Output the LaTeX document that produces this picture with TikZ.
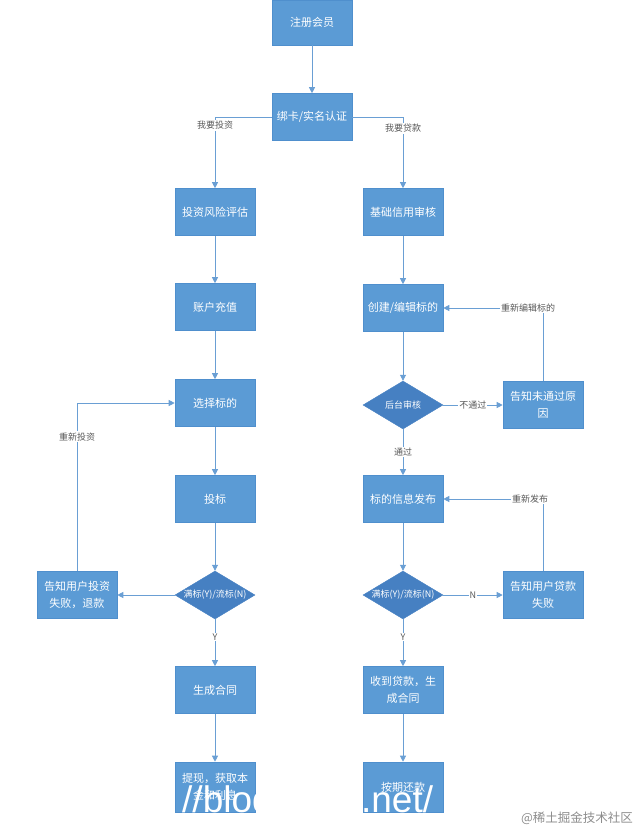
\documentclass[tikz,border=0pt]{standalone}
\usepackage{fontspec}
\setmainfont{Noto Sans CJK SC}
\newfontfamily\urlfont{Liberation Sans}
\usetikzlibrary{arrows.meta,shapes.geometric}
\definecolor{boxblue}{HTML}{5B9BD5}
\definecolor{boxedge}{HTML}{4F8FCD}
\definecolor{diablue}{HTML}{4680C2}
\definecolor{lineblue}{HTML}{6A9FD4}
\definecolor{lblgray}{HTML}{595959}
\definecolor{markgray}{HTML}{8C8C8C}
\tikzset{
  bloco/.style={rectangle, fill=boxblue, draw=boxedge, line width=0.6pt,
    minimum width=80pt, minimum height=47pt, inner sep=2pt, text=white,
    align=center, font=\fontsize{11}{17}\selectfont},
  losango/.style={diamond, fill=diablue, draw=diablue, aspect=1.6,
    minimum width=80pt, minimum height=48pt, inner sep=0pt, text=white,
    font=\fontsize{9}{11}\selectfont},
  rotulo/.style={fill=white, inner sep=1pt, text=lblgray,
    font=\fontsize{9}{11}\selectfont},
  seta/.style={draw=lineblue, line width=0.8pt,
    -{Triangle[length=6pt,width=6pt]}},
}

\begin{document}
\begin{tikzpicture}[x=1pt,y=-1pt]
    \useasboundingbox (0,0) rectangle (643,830);
    \def\xm{312}
    \def\xl{215}
    \def\xr{403}
    \def\xf{77}
    \def\xg{543}

    % Nós

    \node[bloco, minimum height=45pt] (registo) at (\xm,22.5) {注册会员};
    \node[bloco] (cartao) at (\xm,117) {绑卡/实名认证};

    \node[bloco] (risco) at (\xl,212) {投资风险评估};
    \node[bloco] (recarga) at (\xl,307) {账户充值};
    \node[bloco] (escolha) at (\xl,403) {选择标的};
    \node[bloco] (lance) at (\xl,499) {投标};
    \node[losango] (cheio) at (\xl,595) {\makebox[0pt]{满标(Y)/流标(N)}};
    \node[bloco] (reembolso) at (\xf,595) {告知用户投资\\失败，退款};
    \node[bloco] (contrato) at (\xl,690) {生成合同};
    \node[bloco, minimum height=50pt] (saque) at (\xl,787) {提现，获取本\\金和利息};

    \node[bloco] (credito) at (\xr,212) {基础信用审核};
    \node[bloco] (criar) at (\xr,308) {创建/编辑标的};
    \node[losango] (revisao) at (\xr,405) {\makebox[0pt]{后台审核}};
    \node[bloco] (motivo) at (\xg,405) {告知未通过原\\因};
    \node[bloco] (publicar) at (\xr,499) {标的信息发布};
    \node[losango] (cheio2) at (\xr,595) {\makebox[0pt]{满标(Y)/流标(N)}};
    \node[bloco] (falha) at (\xg,595) {告知用户贷款\\失败};
    \node[bloco] (recebido) at (\xr,690) {收到贷款，生\\成合同};
    \node[bloco, minimum height=50pt] (pagar) at (\xr,787) {按期还款};

    % Ligações

    \draw[seta] (registo) -- (cartao);
    \draw[seta] (cartao.west) -| node[rotulo, pos=0.56] {我要投资} (risco.north);
    \draw[seta] (cartao.east) -| node[rotulo, pos=0.58] {我要贷款} (credito.north);

    \draw[seta] (risco) -- (recarga);
    \draw[seta] (recarga) -- (escolha);
    \draw[seta] (escolha) -- (lance);
    \draw[seta] (lance) -- (cheio);
    \draw[seta] (cheio) -- (reembolso);
    \draw[seta] (reembolso.north) |- node[rotulo, pos=0.4] {重新投资} (escolha.west);
    \draw[seta] (cheio) -- node[rotulo, pos=0.38] {Y} (contrato);
    \draw[seta] (contrato) -- (saque);

    \draw[seta] (credito) -- (criar);
    \draw[seta] (criar) -- (revisao);
    \draw[seta] (revisao) -- node[rotulo] {不通过} (motivo);
    \draw[seta] (motivo.north) |- node[rotulo, pos=0.575] {重新编辑标的} (criar.east);
    \draw[seta] (revisao) -- node[rotulo, pos=0.5] {通过} (publicar);
    \draw[seta] (publicar) -- (cheio2);
    \draw[seta] (cheio2) -- node[rotulo] {N} (falha);
    \draw[seta] (falha.north) |- node[rotulo, pos=0.565] {重新发布} (publicar.east);
    \draw[seta] (cheio2) -- node[rotulo, pos=0.38] {Y} (recebido);
    \draw[seta] (recebido) -- (pagar);

    % marcas de água
    \node[anchor=base west, inner sep=0pt, text=white,
      font=\urlfont\fontsize{37}{37}\selectfont] (url) at (182,812) {//blog.csdn.net/};
    \node[text=markgray, font=\fontsize{12.5}{14}\selectfont] (marca) at (577,818) {@稀土掘金技术社区};
  \end{tikzpicture}
\end{document}
